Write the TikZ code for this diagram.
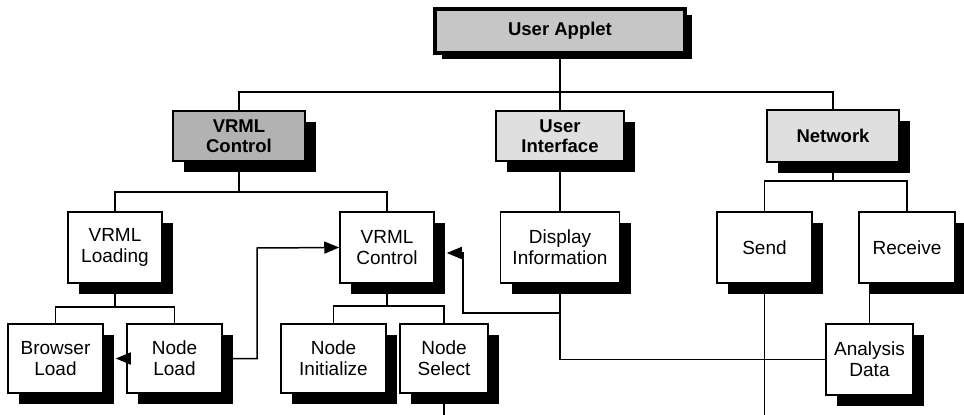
\documentclass[tikz,border=0pt]{standalone}
\usepackage{fontspec}
\setmainfont{Liberation Sans}
\usetikzlibrary{arrows.meta,shadows}

\begin{document}
\begin{tikzpicture}[x=1pt,y=-1pt,
        line width=1.5pt,
        box/.style={draw, fill=white, line width=1.5pt, align=center, inner sep=0pt,
            font=\fontsize{19}{21}\selectfont,
            drop shadow={shadow xshift=11pt, shadow yshift=-11pt, fill=black, opacity=1}},
        headbox/.style={box, font=\fontsize{18.5}{20}\selectfont\bfseries},
        arr/.style={-{Triangle[length=15pt,width=12pt]}}]
    \useasboundingbox (0,0) rectangle (964,415);

    % top
    \node[draw=black, fill=gray!45, line width=4pt, minimum width=250, minimum height=44,
        font=\fontsize{18.5}{20}\selectfont\bfseries,
        drop shadow={shadow xshift=7pt, shadow yshift=-6pt, fill=black, opacity=1}] (app) at (560,31) {User Applet};

    % level 1
    \node[headbox, fill=gray!60, minimum width=132, minimum height=50] (vctl) at (239,136) {VRML\\Control};
    \node[headbox, fill=gray!25, minimum width=128, minimum height=50] (ui) at (560,136) {User\\Interface};
    \node[headbox, fill=gray!25, minimum width=132, minimum height=52] (net) at (833,136) {Network};

    % level 2
    \node[box, minimum width=94, minimum height=71] (vload) at (115,247.5) {VRML\\Loading};
    \node[box, minimum width=94, minimum height=71] (vctl2) at (387,247.5) {VRML\\Control};
    \node[box, minimum width=119, minimum height=71] (disp) at (560,247.5) {Display\\Information};
    \node[box, minimum width=95, minimum height=71] (send) at (764.5,247.5) {Send};
    \node[box, minimum width=96, minimum height=71] (recv) at (907,247.5) {Receive};

    % level 3
    \node[box, minimum width=95, minimum height=69] (blload) at (55.5,358.5) {Browser\\Load};
    \node[box, minimum width=95, minimum height=69] (ndload) at (174.5,358.5) {Node\\Load};
    \node[box, minimum width=105, minimum height=69] (ndinit) at (333.5,358.5) {Node\\Initialize};
    \node[box, minimum width=88, minimum height=69] (ndsel) at (444,358.5) {Node\\Select};
    \node[box, minimum width=87, minimum height=71] (anal) at (869.5,359.5) {Analysis\\Data};

    % tree bars
    \coordinate (b0) at (560,92);
    \coordinate (b1) at (239,192);
    \coordinate (b2) at (833,181);
    \coordinate (b3) at (115,307);
    \coordinate (b4) at (387,306);

    \draw (app) -- (b0);
    \draw (b0) -| (vctl);
    \draw (b0) -- (ui);
    \draw (b0) -| (net);

    \draw (vctl) -- (b1);
    \draw (b1) -| (vload);
    \draw (b1) -| (vctl2);
    \draw (ui) -- (disp);
    \draw (net) -- (b2);
    \draw (b2) -| (send);
    \draw (b2) -| (recv);

    \draw (vload) -- (b3);
    \draw (b3) -| (blload);
    \draw (b3) -| (ndload);
    \draw (vctl2) -- (b4);
    \draw (b4) -| (ndinit);
    \draw (b4) -| (ndsel);
    \draw (anal.north) -- (anal.north |- recv.south);

    % data flow
    \coordinate (j1) at (560,313);
    \coordinate (j2) at (463,253);
    \coordinate (j3) at (257,248);
    \draw[arr, shorten >=12pt] (ndload.west) -- (blload.east);
    \draw[arr] (ndload.east) -| (j3) -- (vctl2.west);
    \draw (anal.west) -| (disp.south);
    \draw[arr, shorten >=12pt] (j1) -| (j2) -- (j2 -| vctl2.east);

    % to the next part
    \coordinate (o1) at (444,415);
    \coordinate (o2) at (764.5,415);
    \draw (ndsel) -- (o1);
    \draw (send) -- (o2);
\end{tikzpicture}
\end{document}
